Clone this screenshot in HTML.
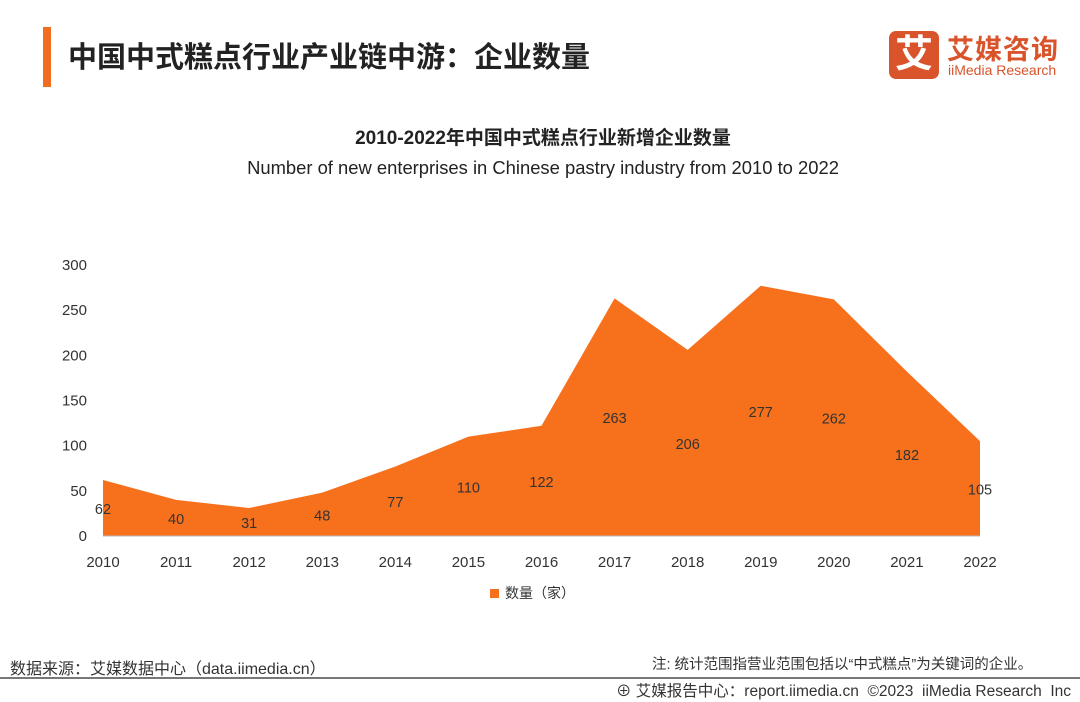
<!DOCTYPE html>
<html><head><meta charset="utf-8">
<style>
body{margin:0;width:1080px;height:702px;background:#fff;font-family:"Liberation Sans","Noto Sans CJK SC",sans-serif;position:relative;overflow:hidden}
.abs{position:absolute}
</style></head><body>
<div class="abs" style="left:43px;top:27px;width:8px;height:60px;background:#f26b21"></div>
<div class="abs" style="left:68px;top:34px;font-size:29px;font-weight:bold;color:#222">中国中式糕点行业产业链中游：企业数量</div>
<div class="abs" style="left:889px;top:31px;width:170px;height:50px">
  <div style="position:absolute;left:0;top:0;width:50px;height:48px;background:#d9532b;border-radius:7px;color:#fff;font-size:38px;font-weight:bold;text-align:center;line-height:48px">艾</div>
  <div style="position:absolute;left:58px;top:-3px;font-size:27px;font-weight:bold;color:#d9532b;letter-spacing:1px">艾媒咨询</div>
  <div style="position:absolute;left:59px;top:31px;font-size:14px;color:#d9532b">iiMedia Research</div>
</div>
<div class="abs" style="left:0;width:1086px;top:123px;text-align:center;font-size:19px;font-weight:bold;color:#222">2010-2022年中国中式糕点行业新增企业数量</div>
<div class="abs" style="left:0;width:1086px;top:157px;text-align:center;font-size:18.4px;color:#222">Number of new enterprises in Chinese pastry industry from 2010 to 2022</div>
<svg class="abs" style="left:0;top:0" width="1080" height="702" id="chart"></svg>
<div class="abs" style="left:10px;top:655px;font-size:16px;color:#333">数据来源：艾媒数据中心（data.iimedia.cn）</div>
<div class="abs" style="left:652px;top:653px;font-size:14.5px;color:#333">注: 统计范围指营业范围包括以“中式糕点”为关键词的企业。</div>
<div class="abs" style="left:0;top:677px;width:1080px;height:2px;background:#777"></div>
<div class="abs" style="left:616px;top:679px;font-size:15.5px;color:#333">⊕ 艾媒报告中心：report.iimedia.cn &nbsp;©2023 &nbsp;iiMedia Research &nbsp;Inc</div>
<script>
const years=["2010","2011","2012","2013","2014","2015","2016","2017","2018","2019","2020","2021","2022"];
const counts=[62,40,31,48,77,110,122,263,206,277,262,182,105];
const yTicks=[0,50,100,150,200,250,300];
const NS="http://www.w3.org/2000/svg";
const svg=document.getElementById('chart');
const x0=103,x1=980,yBase=536,yTop=265,yMax=300;
const xs=i=>x0+(x1-x0)*i/(years.length-1);
const ys=v=>yBase-(yBase-yTop)*v/yMax;
function mk(t,a){const e=document.createElementNS(NS,t);for(const k in a)e.setAttribute(k,a[k]);svg.appendChild(e);return e;}
let d=`M${xs(0)},${ys(0)}`;
counts.forEach((v,i)=>d+=` L${xs(i)},${ys(v)}`);
d+=` L${xs(counts.length-1)},${ys(0)} Z`;
const area=mk('path',{d:d,fill:'#f7711d'});


yTicks.forEach(t=>{const e=mk('text',{x:87,y:ys(t)+5,'text-anchor':'end','font-size':15,fill:'#333'});e.textContent=t;

});
const ax=mk('line',{x1:x0,x2:x1,y1:yBase,y2:yBase,stroke:'#bbb','stroke-width':1});


years.forEach((y,i)=>{const e=mk('text',{x:xs(i),y:567,'text-anchor':'middle','font-size':15,fill:'#333'});e.textContent=y;

});
counts.forEach((v,i)=>{const e=mk('text',{x:xs(i),y:ys(v/2)+6,'text-anchor':'middle','font-size':14.5,fill:'#333'});e.textContent=v;

});
const lg=mk('rect',{x:490,y:589,width:9,height:9,fill:'#f7711d'});


const lt=mk('text',{x:505,y:598,'font-size':14,fill:'#333'});lt.textContent='数量（家）';


</script>
</body></html>
